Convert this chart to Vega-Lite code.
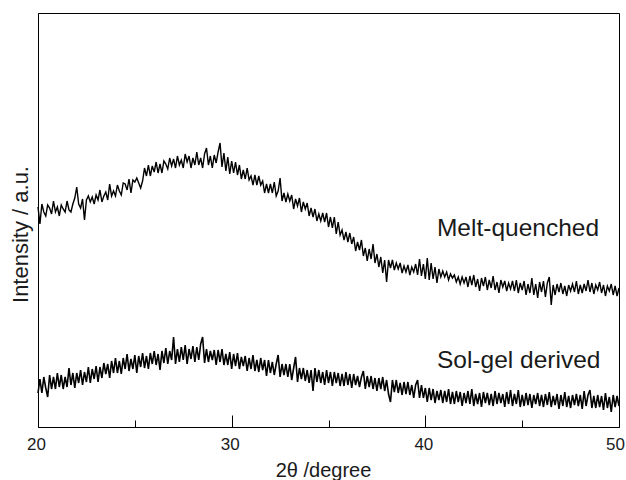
{
"$schema": "https://vega.github.io/schema/vega-lite/v6.json",
"width": 581, "height": 414,
"autosize": {"type": "none"},
"padding": {"left": 38, "top": 13, "right": 7, "bottom": 53},
"background": "white",
"config": {"view": {"stroke": "black", "strokeWidth": 1}, "font": "Liberation Sans"},
"datasets": {
"mq": [
{"t":20.0,"i":220},{"t":20.1,"i":203},{"t":20.2,"i":223},{"t":20.3,"i":215},{"t":20.4,"i":211},{"t":20.5,"i":222},{"t":20.6,"i":219},{"t":20.7,"i":213},{"t":20.8,"i":226},{"t":20.9,"i":215},
{"t":21.0,"i":220},{"t":21.1,"i":211},{"t":21.2,"i":222},{"t":21.3,"i":218},{"t":21.4,"i":215},{"t":21.5,"i":226},{"t":21.6,"i":217},{"t":21.7,"i":215},{"t":21.8,"i":223},{"t":21.9,"i":229},
{"t":22.0,"i":240},{"t":22.1,"i":223},{"t":22.2,"i":219},{"t":22.3,"i":228},{"t":22.4,"i":207},{"t":22.5,"i":227},{"t":22.6,"i":231},{"t":22.7,"i":225},{"t":22.8,"i":230},{"t":22.9,"i":223},
{"t":23.0,"i":232},{"t":23.1,"i":227},{"t":23.2,"i":237},{"t":23.3,"i":225},{"t":23.4,"i":231},{"t":23.5,"i":235},{"t":23.6,"i":227},{"t":23.7,"i":243},{"t":23.8,"i":231},{"t":23.9,"i":236},
{"t":24.0,"i":231},{"t":24.1,"i":242},{"t":24.2,"i":236},{"t":24.3,"i":232},{"t":24.4,"i":244},{"t":24.5,"i":243},{"t":24.6,"i":237},{"t":24.7,"i":248},{"t":24.8,"i":234},{"t":24.9,"i":247},
{"t":25.0,"i":245},{"t":25.1,"i":249},{"t":25.2,"i":244},{"t":25.3,"i":239},{"t":25.4,"i":246},{"t":25.5,"i":259},{"t":25.6,"i":251},{"t":25.7,"i":262},{"t":25.8,"i":251},{"t":25.9,"i":261},
{"t":26.0,"i":255},{"t":26.1,"i":265},{"t":26.2,"i":254},{"t":26.3,"i":263},{"t":26.4,"i":254},{"t":26.5,"i":266},{"t":26.6,"i":263},{"t":26.7,"i":258},{"t":26.8,"i":269},{"t":26.9,"i":261},
{"t":27.0,"i":268},{"t":27.1,"i":259},{"t":27.2,"i":271},{"t":27.3,"i":262},{"t":27.4,"i":267},{"t":27.5,"i":259},{"t":27.6,"i":273},{"t":27.7,"i":265},{"t":27.8,"i":271},{"t":27.9,"i":259},
{"t":28.0,"i":269},{"t":28.1,"i":262},{"t":28.2,"i":275},{"t":28.3,"i":262},{"t":28.4,"i":269},{"t":28.5,"i":259},{"t":28.6,"i":273},{"t":28.7,"i":279},{"t":28.8,"i":262},{"t":28.9,"i":271},
{"t":29.0,"i":259},{"t":29.1,"i":272},{"t":29.2,"i":264},{"t":29.3,"i":275},{"t":29.4,"i":284},{"t":29.5,"i":260},{"t":29.6,"i":274},{"t":29.7,"i":256},{"t":29.8,"i":270},{"t":29.9,"i":253},
{"t":30.0,"i":266},{"t":30.1,"i":254},{"t":30.2,"i":265},{"t":30.3,"i":252},{"t":30.4,"i":262},{"t":30.5,"i":248},{"t":30.6,"i":257},{"t":30.7,"i":248},{"t":30.8,"i":259},{"t":30.9,"i":247},
{"t":31.0,"i":251},{"t":31.1,"i":242},{"t":31.2,"i":252},{"t":31.3,"i":242},{"t":31.4,"i":251},{"t":31.5,"i":242},{"t":31.6,"i":246},{"t":31.7,"i":234},{"t":31.8,"i":243},{"t":31.9,"i":234},
{"t":32.0,"i":243},{"t":32.1,"i":234},{"t":32.2,"i":245},{"t":32.3,"i":231},{"t":32.4,"i":236},{"t":32.5,"i":249},{"t":32.6,"i":226},{"t":32.7,"i":234},{"t":32.8,"i":225},{"t":32.9,"i":233},
{"t":33.0,"i":226},{"t":33.1,"i":232},{"t":33.2,"i":218},{"t":33.3,"i":228},{"t":33.4,"i":221},{"t":33.5,"i":229},{"t":33.6,"i":215},{"t":33.7,"i":225},{"t":33.8,"i":218},{"t":33.9,"i":224},
{"t":34.0,"i":211},{"t":34.1,"i":219},{"t":34.2,"i":210},{"t":34.3,"i":218},{"t":34.4,"i":206},{"t":34.5,"i":213},{"t":34.6,"i":206},{"t":34.7,"i":214},{"t":34.8,"i":205},{"t":34.9,"i":214},
{"t":35.0,"i":200},{"t":35.1,"i":210},{"t":35.2,"i":199},{"t":35.3,"i":210},{"t":35.4,"i":193},{"t":35.5,"i":205},{"t":35.6,"i":192},{"t":35.7,"i":197},{"t":35.8,"i":187},{"t":35.9,"i":195},
{"t":36.0,"i":185},{"t":36.1,"i":194},{"t":36.2,"i":183},{"t":36.3,"i":190},{"t":36.4,"i":176},{"t":36.5,"i":185},{"t":36.6,"i":177},{"t":36.7,"i":187},{"t":36.8,"i":171},{"t":36.9,"i":179},
{"t":37.0,"i":166},{"t":37.1,"i":178},{"t":37.2,"i":168},{"t":37.3,"i":183},{"t":37.4,"i":164},{"t":37.5,"i":173},{"t":37.6,"i":160},{"t":37.7,"i":170},{"t":37.8,"i":154},{"t":37.9,"i":167},
{"t":38.0,"i":145},{"t":38.1,"i":167},{"t":38.2,"i":159},{"t":38.3,"i":167},{"t":38.4,"i":157},{"t":38.5,"i":164},{"t":38.6,"i":158},{"t":38.7,"i":164},{"t":38.8,"i":154},{"t":38.9,"i":161},
{"t":39.0,"i":155},{"t":39.1,"i":162},{"t":39.2,"i":152},{"t":39.3,"i":160},{"t":39.4,"i":155},{"t":39.5,"i":163},{"t":39.6,"i":152},{"t":39.7,"i":168},{"t":39.8,"i":151},{"t":39.9,"i":163},
{"t":40.0,"i":148},{"t":40.1,"i":169},{"t":40.2,"i":147},{"t":40.3,"i":164},{"t":40.4,"i":148},{"t":40.5,"i":160},{"t":40.6,"i":144},{"t":40.7,"i":158},{"t":40.8,"i":150},{"t":40.9,"i":156},
{"t":41.0,"i":150},{"t":41.1,"i":155},{"t":41.2,"i":147},{"t":41.3,"i":153},{"t":41.4,"i":149},{"t":41.5,"i":152},{"t":41.6,"i":145},{"t":41.7,"i":150},{"t":41.8,"i":143},{"t":41.9,"i":150},
{"t":42.0,"i":144},{"t":42.1,"i":150},{"t":42.2,"i":140},{"t":42.3,"i":151},{"t":42.4,"i":142},{"t":42.5,"i":152},{"t":42.6,"i":140},{"t":42.7,"i":148},{"t":42.8,"i":136},{"t":42.9,"i":149},
{"t":43.0,"i":141},{"t":43.1,"i":150},{"t":43.2,"i":137},{"t":43.3,"i":147},{"t":43.4,"i":139},{"t":43.5,"i":151},{"t":43.6,"i":137},{"t":43.7,"i":145},{"t":43.8,"i":134},{"t":43.9,"i":147},
{"t":44.0,"i":140},{"t":44.1,"i":146},{"t":44.2,"i":136},{"t":44.3,"i":144},{"t":44.4,"i":138},{"t":44.5,"i":146},{"t":44.6,"i":136},{"t":44.7,"i":147},{"t":44.8,"i":134},{"t":44.9,"i":144},
{"t":45.0,"i":137},{"t":45.1,"i":146},{"t":45.2,"i":132},{"t":45.3,"i":143},{"t":45.4,"i":134},{"t":45.5,"i":149},{"t":45.6,"i":132},{"t":45.7,"i":143},{"t":45.8,"i":129},{"t":45.9,"i":145},
{"t":46.0,"i":135},{"t":46.1,"i":146},{"t":46.2,"i":130},{"t":46.3,"i":144},{"t":46.4,"i":150},{"t":46.5,"i":122},{"t":46.6,"i":142},{"t":46.7,"i":132},{"t":46.8,"i":143},{"t":46.9,"i":135},
{"t":47.0,"i":144},{"t":47.1,"i":133},{"t":47.2,"i":141},{"t":47.3,"i":131},{"t":47.4,"i":142},{"t":47.5,"i":136},{"t":47.6,"i":143},{"t":47.7,"i":135},{"t":47.8,"i":146},{"t":47.9,"i":133},
{"t":48.0,"i":142},{"t":48.1,"i":134},{"t":48.2,"i":143},{"t":48.3,"i":136},{"t":48.4,"i":147},{"t":48.5,"i":135},{"t":48.6,"i":144},{"t":48.7,"i":133},{"t":48.8,"i":142},{"t":48.9,"i":137},
{"t":49.0,"i":145},{"t":49.1,"i":134},{"t":49.2,"i":142},{"t":49.3,"i":131},{"t":49.4,"i":141},{"t":49.5,"i":136},{"t":49.6,"i":143},{"t":49.7,"i":132},{"t":49.8,"i":141},{"t":49.9,"i":131},
{"t":50.0,"i":139}
],
"sg": [
{"t":20.0,"i":34},{"t":20.1,"i":48},{"t":20.2,"i":34},{"t":20.3,"i":50},{"t":20.4,"i":39},{"t":20.5,"i":30},{"t":20.6,"i":52},{"t":20.7,"i":38},{"t":20.8,"i":50},{"t":20.9,"i":38},
{"t":21.0,"i":54},{"t":21.1,"i":40},{"t":21.2,"i":52},{"t":21.3,"i":38},{"t":21.4,"i":50},{"t":21.5,"i":40},{"t":21.6,"i":59},{"t":21.7,"i":42},{"t":21.8,"i":54},{"t":21.9,"i":39},
{"t":22.0,"i":54},{"t":22.1,"i":44},{"t":22.2,"i":57},{"t":22.3,"i":42},{"t":22.4,"i":55},{"t":22.5,"i":45},{"t":22.6,"i":60},{"t":22.7,"i":44},{"t":22.8,"i":58},{"t":22.9,"i":48},
{"t":23.0,"i":61},{"t":23.1,"i":45},{"t":23.2,"i":60},{"t":23.3,"i":49},{"t":23.4,"i":64},{"t":23.5,"i":53},{"t":23.6,"i":63},{"t":23.7,"i":49},{"t":23.8,"i":66},{"t":23.9,"i":54},
{"t":24.0,"i":69},{"t":24.1,"i":54},{"t":24.2,"i":66},{"t":24.3,"i":53},{"t":24.4,"i":69},{"t":24.5,"i":58},{"t":24.6,"i":73},{"t":24.7,"i":56},{"t":24.8,"i":68},{"t":24.9,"i":58},
{"t":25.0,"i":72},{"t":25.1,"i":54},{"t":25.2,"i":71},{"t":25.3,"i":60},{"t":25.4,"i":74},{"t":25.5,"i":59},{"t":25.6,"i":71},{"t":25.7,"i":58},{"t":25.8,"i":74},{"t":25.9,"i":63},
{"t":26.0,"i":76},{"t":26.1,"i":62},{"t":26.2,"i":73},{"t":26.3,"i":57},{"t":26.4,"i":76},{"t":26.5,"i":64},{"t":26.6,"i":79},{"t":26.7,"i":63},{"t":26.8,"i":76},{"t":26.9,"i":67},
{"t":27.0,"i":90},{"t":27.1,"i":63},{"t":27.2,"i":78},{"t":27.3,"i":65},{"t":27.4,"i":80},{"t":27.5,"i":67},{"t":27.6,"i":82},{"t":27.7,"i":63},{"t":27.8,"i":78},{"t":27.9,"i":68},
{"t":28.0,"i":81},{"t":28.1,"i":65},{"t":28.2,"i":80},{"t":28.3,"i":67},{"t":28.4,"i":83},{"t":28.5,"i":90},{"t":28.6,"i":64},{"t":28.7,"i":78},{"t":28.8,"i":65},{"t":28.9,"i":76},
{"t":29.0,"i":67},{"t":29.1,"i":77},{"t":29.2,"i":62},{"t":29.3,"i":77},{"t":29.4,"i":65},{"t":29.5,"i":78},{"t":29.6,"i":62},{"t":29.7,"i":73},{"t":29.8,"i":62},{"t":29.9,"i":75},
{"t":30.0,"i":58},{"t":30.1,"i":73},{"t":30.2,"i":61},{"t":30.3,"i":74},{"t":30.4,"i":58},{"t":30.5,"i":70},{"t":30.6,"i":61},{"t":30.7,"i":71},{"t":30.8,"i":56},{"t":30.9,"i":69},
{"t":31.0,"i":58},{"t":31.1,"i":72},{"t":31.2,"i":56},{"t":31.3,"i":67},{"t":31.4,"i":55},{"t":31.5,"i":69},{"t":31.6,"i":57},{"t":31.7,"i":67},{"t":31.8,"i":51},{"t":31.9,"i":67},
{"t":32.0,"i":54},{"t":32.1,"i":65},{"t":32.2,"i":52},{"t":32.3,"i":63},{"t":32.4,"i":72},{"t":32.5,"i":50},{"t":32.6,"i":63},{"t":32.7,"i":52},{"t":32.8,"i":63},{"t":32.9,"i":50},
{"t":33.0,"i":63},{"t":33.1,"i":47},{"t":33.2,"i":59},{"t":33.3,"i":70},{"t":33.4,"i":45},{"t":33.5,"i":59},{"t":33.6,"i":48},{"t":33.7,"i":59},{"t":33.8,"i":46},{"t":33.9,"i":57},
{"t":34.0,"i":44},{"t":34.1,"i":57},{"t":34.2,"i":36},{"t":34.3,"i":59},{"t":34.4,"i":45},{"t":34.5,"i":57},{"t":34.6,"i":44},{"t":34.7,"i":55},{"t":34.8,"i":42},{"t":34.9,"i":57},
{"t":35.0,"i":44},{"t":35.1,"i":55},{"t":35.2,"i":41},{"t":35.3,"i":55},{"t":35.4,"i":44},{"t":35.5,"i":54},{"t":35.6,"i":41},{"t":35.7,"i":53},{"t":35.8,"i":41},{"t":35.9,"i":55},
{"t":36.0,"i":42},{"t":36.1,"i":53},{"t":36.2,"i":39},{"t":36.3,"i":53},{"t":36.4,"i":42},{"t":36.5,"i":51},{"t":36.6,"i":40},{"t":36.7,"i":50},{"t":36.8,"i":56},{"t":36.9,"i":38},
{"t":37.0,"i":51},{"t":37.1,"i":40},{"t":37.2,"i":51},{"t":37.3,"i":38},{"t":37.4,"i":49},{"t":37.5,"i":36},{"t":37.6,"i":49},{"t":37.7,"i":38},{"t":37.8,"i":50},{"t":37.9,"i":36},
{"t":38.0,"i":47},{"t":38.1,"i":33},{"t":38.2,"i":25},{"t":38.3,"i":47},{"t":38.4,"i":35},{"t":38.5,"i":47},{"t":38.6,"i":34},{"t":38.7,"i":44},{"t":38.8,"i":32},{"t":38.9,"i":45},
{"t":39.0,"i":33},{"t":39.1,"i":45},{"t":39.2,"i":32},{"t":39.3,"i":42},{"t":39.4,"i":29},{"t":39.5,"i":42},{"t":39.6,"i":47},{"t":39.7,"i":29},{"t":39.8,"i":42},{"t":39.9,"i":29},
{"t":40.0,"i":39},{"t":40.1,"i":25},{"t":40.2,"i":39},{"t":40.3,"i":27},{"t":40.4,"i":38},{"t":40.5,"i":24},{"t":40.6,"i":36},{"t":40.7,"i":27},{"t":40.8,"i":37},{"t":40.9,"i":24},
{"t":41.0,"i":36},{"t":41.1,"i":25},{"t":41.2,"i":38},{"t":41.3,"i":23},{"t":41.4,"i":35},{"t":41.5,"i":23},{"t":41.6,"i":36},{"t":41.7,"i":25},{"t":41.8,"i":35},{"t":41.9,"i":21},
{"t":42.0,"i":34},{"t":42.1,"i":24},{"t":42.2,"i":36},{"t":42.3,"i":23},{"t":42.4,"i":38},{"t":42.5,"i":21},{"t":42.6,"i":33},{"t":42.7,"i":23},{"t":42.8,"i":34},{"t":42.9,"i":20},
{"t":43.0,"i":35},{"t":43.1,"i":24},{"t":43.2,"i":34},{"t":43.3,"i":22},{"t":43.4,"i":33},{"t":43.5,"i":21},{"t":43.6,"i":36},{"t":43.7,"i":23},{"t":43.8,"i":34},{"t":43.9,"i":24},
{"t":44.0,"i":33},{"t":44.1,"i":20},{"t":44.2,"i":35},{"t":44.3,"i":23},{"t":44.4,"i":37},{"t":44.5,"i":21},{"t":44.6,"i":33},{"t":44.7,"i":23},{"t":44.8,"i":37},{"t":44.9,"i":20},
{"t":45.0,"i":32},{"t":45.1,"i":21},{"t":45.2,"i":34},{"t":45.3,"i":22},{"t":45.4,"i":33},{"t":45.5,"i":19},{"t":45.6,"i":32},{"t":45.7,"i":23},{"t":45.8,"i":34},{"t":45.9,"i":21},
{"t":46.0,"i":32},{"t":46.1,"i":20},{"t":46.2,"i":33},{"t":46.3,"i":22},{"t":46.4,"i":35},{"t":46.5,"i":20},{"t":46.6,"i":31},{"t":46.7,"i":22},{"t":46.8,"i":33},{"t":46.9,"i":18},
{"t":47.0,"i":32},{"t":47.1,"i":21},{"t":47.2,"i":35},{"t":47.3,"i":20},{"t":47.4,"i":31},{"t":47.5,"i":19},{"t":47.6,"i":32},{"t":47.7,"i":22},{"t":47.8,"i":33},{"t":47.9,"i":21},
{"t":48.0,"i":32},{"t":48.1,"i":18},{"t":48.2,"i":36},{"t":48.3,"i":21},{"t":48.4,"i":32},{"t":48.5,"i":37},{"t":48.6,"i":19},{"t":48.7,"i":31},{"t":48.8,"i":19},{"t":48.9,"i":32},
{"t":49.0,"i":20},{"t":49.1,"i":31},{"t":49.2,"i":17},{"t":49.3,"i":34},{"t":49.4,"i":19},{"t":49.5,"i":30},{"t":49.6,"i":15},{"t":49.7,"i":32},{"t":49.8,"i":20},{"t":49.9,"i":31},
{"t":50.0,"i":21}
],
"labels": [
{"t":40.6,"i":191,"label":"Melt-quenched"},
{"t":40.6,"i":59,"label":"Sol-gel derived"}
]
},
"encoding": {
"x": {"field": "t", "type": "quantitative",
  "scale": {"domain": [20, 50], "nice": false, "zero": false},
  "axis": {"title": "2θ /degree", "values": [20, 25, 30, 35, 40, 45, 50],
    "labelExpr": "datum.value % 10 === 0 ? datum.label : ''",
    "labelFlush": false, "labelOverlap": false, "labelFontSize": 17, "labelColor": "#1a1a1a", "labelFont": "Liberation Sans",
    "labelPadding": 21,
    "labelOffset": {"condition": {"test": "datum.value === 50", "value": -4}, "value": -2},
    "tickSize": {"condition": {"test": "datum.value % 10 === 0", "value": -12}, "value": -7},
    "tickColor": "black", "tickWidth": 1, "domainColor": "black", "grid": false,
    "titleFont": "Liberation Sans", "titleFontSize": 20, "titleFontWeight": "normal", "titleColor": "#1a1a1a",
    "titleX": 285, "titleY": 49, "titleBaseline": "alphabetic", "titleAlign": "center"}},
"y": {"field": "i", "type": "quantitative",
  "scale": {"domain": [0, 414], "nice": false, "zero": false},
  "axis": {"title": "Intensity / a.u.", "ticks": false, "labels": false, "grid": false, "domainColor": "black",
    "titleFont": "Liberation Sans", "titleFontSize": 22, "titleFontWeight": "normal", "titleColor": "#1a1a1a",
    "titleX": -11, "titleY": 221, "titleAngle": -90, "titleBaseline": "alphabetic", "titleAlign": "center"}}
},
"layer": [
{"data": {"name": "mq"}, "mark": {"type": "line", "color": "black", "strokeWidth": 1.4}},
{"data": {"name": "sg"}, "mark": {"type": "line", "color": "black", "strokeWidth": 1.6}},
{"data": {"name": "labels"}, "mark": {"type": "text", "align": "left", "baseline": "alphabetic", "fontSize": 24.5, "font": "Liberation Sans", "color": "#1a1a1a"},
 "encoding": {"text": {"field": "label"}}}
]
}
